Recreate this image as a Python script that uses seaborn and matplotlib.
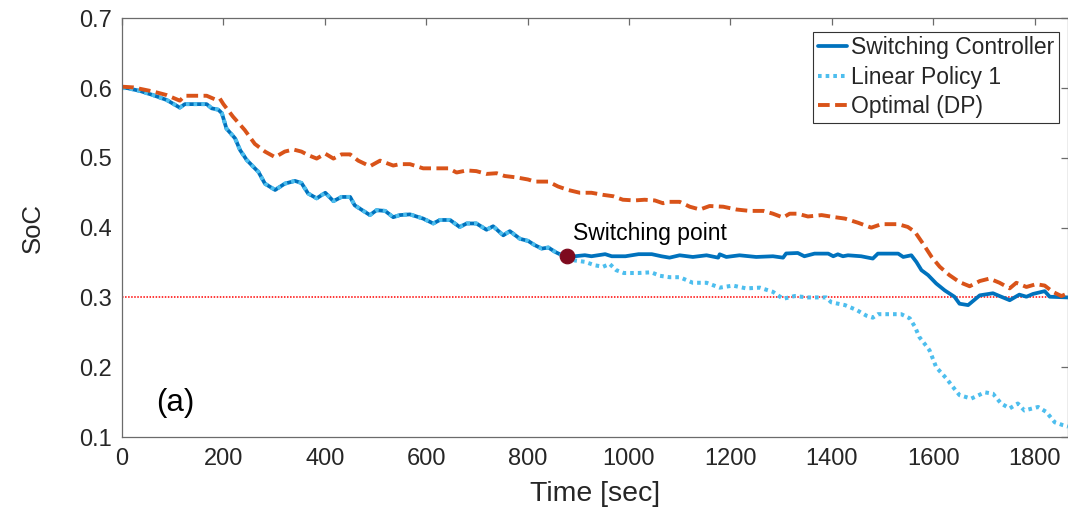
import matplotlib
matplotlib.use("Agg")
import matplotlib.pyplot as plt
import seaborn as sns
import pandas as pd

# ---- data ----
t_pre = [0, 10, 35, 61, 88, 114, 124, 167, 177, 190, 197, 206, 223, 233, 246, 262, 269, 282,
         302, 321, 341, 354, 367, 384, 401, 417, 433, 450, 459, 489, 502, 519, 535, 548, 568,
         594, 614, 627, 647, 666, 680, 699, 719, 732, 752, 765, 785, 801, 814, 828, 841, 855,
         868, 877]
soc_pre = [0.600, 0.600, 0.596, 0.590, 0.583, 0.572, 0.577, 0.577, 0.571, 0.569, 0.564, 0.542,
           0.528, 0.511, 0.497, 0.485, 0.480, 0.463, 0.454, 0.463, 0.467, 0.464, 0.449, 0.442,
           0.450, 0.438, 0.444, 0.444, 0.432, 0.418, 0.425, 0.424, 0.415, 0.418, 0.419, 0.413,
           0.406, 0.411, 0.411, 0.401, 0.406, 0.406, 0.397, 0.402, 0.389, 0.395, 0.384, 0.381,
           0.375, 0.370, 0.3715, 0.365, 0.3604, 0.359]

t_sw = [893, 913, 926, 953, 966, 993, 1019, 1045, 1064, 1080, 1100, 1126, 1153, 1176, 1179,
        1192, 1218, 1251, 1284, 1304, 1310, 1333, 1346, 1366, 1393, 1403, 1412, 1422, 1432,
        1458, 1481, 1491, 1531, 1541, 1557, 1567, 1577, 1590, 1606, 1623, 1642, 1652, 1669,
        1692, 1718, 1731, 1751, 1770, 1784, 1797, 1820, 1830, 1866]
soc_sw = [0.359, 0.3605, 0.359, 0.362, 0.359, 0.359, 0.362, 0.362, 0.359, 0.357, 0.3604,
          0.358, 0.3604, 0.357, 0.3618, 0.358, 0.3604, 0.358, 0.359, 0.357, 0.363, 0.3637,
          0.359, 0.3628, 0.3628, 0.359, 0.3618, 0.359, 0.3604, 0.359, 0.3557, 0.3628, 0.3628,
          0.358, 0.3604, 0.3508, 0.339, 0.332, 0.320, 0.310, 0.301, 0.291, 0.289, 0.303, 0.306,
          0.302, 0.296, 0.304, 0.301, 0.305, 0.309, 0.301, 0.300]

t_lin = [893, 913, 933, 949, 962, 975, 990, 1018, 1044, 1061, 1080, 1100, 1126, 1153, 1179,
         1205, 1231, 1258, 1284, 1304, 1327, 1353, 1389, 1399, 1426, 1449, 1468, 1481, 1491,
         1537, 1554, 1564, 1573, 1587, 1593, 1606, 1626, 1642, 1652, 1675, 1702, 1718, 1734,
         1751, 1767, 1780, 1807, 1823, 1840, 1856, 1866]
soc_lin = [0.353, 0.351, 0.346, 0.344, 0.348, 0.339, 0.335, 0.335, 0.336, 0.331, 0.329, 0.329,
           0.321, 0.321, 0.314, 0.317, 0.313, 0.314, 0.308, 0.298, 0.302, 0.300, 0.300, 0.293,
           0.289, 0.282, 0.274, 0.271, 0.276, 0.276, 0.270, 0.258, 0.243, 0.230, 0.224, 0.200,
           0.184, 0.169, 0.160, 0.155, 0.164, 0.162, 0.148, 0.141, 0.148, 0.138, 0.143, 0.136,
           0.121, 0.117, 0.115]

t_dp = [0, 22, 62, 88, 114, 124, 167, 183, 193, 200, 219, 242, 262, 282, 302, 321, 338, 354,
        367, 384, 401, 417, 433, 450, 466, 489, 509, 535, 548, 568, 594, 620, 644, 660, 680,
        699, 719, 739, 755, 778, 801, 814, 841, 860, 880, 903, 926, 949, 969, 988, 1011, 1031,
        1051, 1067, 1080, 1100, 1120, 1140, 1159, 1186, 1212, 1238, 1265, 1284, 1304, 1317,
        1333, 1353, 1380, 1406, 1426, 1452, 1478, 1498, 1531, 1550, 1564, 1580, 1597, 1613,
        1632, 1652, 1672, 1692, 1711, 1731, 1751, 1764, 1784, 1803, 1820, 1836, 1853, 1866]
soc_dp = [0.602, 0.601, 0.595, 0.590, 0.582, 0.589, 0.589, 0.584, 0.585, 0.577, 0.559, 0.540,
          0.520, 0.509, 0.501, 0.509, 0.512, 0.509, 0.504, 0.499, 0.506, 0.499, 0.505, 0.505,
          0.496, 0.488, 0.496, 0.489, 0.491, 0.491, 0.485, 0.485, 0.485, 0.479, 0.482, 0.481,
          0.477, 0.478, 0.474, 0.472, 0.469, 0.466, 0.466, 0.459, 0.454, 0.450, 0.450, 0.447,
          0.445, 0.440, 0.439, 0.440, 0.439, 0.435, 0.437, 0.437, 0.430, 0.426, 0.431, 0.430,
          0.426, 0.424, 0.424, 0.420, 0.4145, 0.420, 0.420, 0.416, 0.418, 0.415, 0.413, 0.407,
          0.400, 0.405, 0.405, 0.401, 0.394, 0.377, 0.358, 0.344, 0.332, 0.322, 0.316, 0.3235,
          0.327, 0.321, 0.313, 0.321, 0.315, 0.319, 0.317, 0.308, 0.302, 0.306]

switch_t = [877]
switch_soc = [0.359]
soc_limit = 0.3

x_ticks = [0, 200, 400, 600, 800, 1000, 1200, 1400, 1600, 1800]
y_ticks = [0.1, 0.2, 0.3, 0.4, 0.5, 0.6, 0.7]

labels = ["Switching Controller", "Linear Policy 1", "Optimal (DP)"]

# ---- style ----
sns.set_theme(style="white")
plt.rcParams["font.family"] = ["Liberation Sans", "DejaVu Sans"]
plt.rcParams.update({
    "xtick.direction": "in", "ytick.direction": "in",
    "axes.edgecolor": "#6b6b6b", "axes.linewidth": 0.9,
    "xtick.color": "#6b6b6b", "ytick.color": "#6b6b6b",
    "xtick.labelcolor": "#262626", "ytick.labelcolor": "#262626",
})

fig = plt.figure(figsize=(10.68, 5.15), dpi=100)
ax = fig.add_axes([122 / 1068, 78 / 515, 946 / 1068, 418.7 / 515])

df_sw = pd.DataFrame({"t": t_pre + t_sw, "soc": soc_pre + soc_sw})
df_lin = pd.DataFrame({"t": t_pre + t_lin, "soc": soc_pre + soc_lin})
df_dp = pd.DataFrame({"t": t_dp, "soc": soc_dp})

sns.lineplot(data=df_sw, x="t", y="soc", ax=ax, color="#0072BD", lw=2.7,
             estimator=None, sort=False, label=labels[0])
sns.lineplot(data=df_lin, x="t", y="soc", ax=ax, color="#4DBEEE", lw=2.9,
             linestyle=(0, (0.9, 1.0)), estimator=None, sort=False, label=labels[1])
sns.lineplot(data=df_dp, x="t", y="soc", ax=ax, color="#D95319", lw=2.8,
             linestyle=(0, (3.0, 1.4)), estimator=None, sort=False, label=labels[2])

ax.axhline(soc_limit, color="red", lw=1.1, linestyle=(0, (1, 1)), zorder=1)
sns.scatterplot(x=switch_t, y=switch_soc, ax=ax, color="#7E0A1E", s=110,
                edgecolor="#7E0A1E", zorder=5, legend=False)
ax.text(889, 0.392, "Switching point", fontsize=16.5, color="black",
        ha="left", va="center")
ax.text(106, 0.149, "(a)", fontsize=22.5, color="black", ha="center", va="center")

ax.set_xlim(0, 1866)
ax.set_ylim(0.1, 0.7)
ax.set_xticks(x_ticks)
ax.set_yticks(y_ticks)
ax.set_yticklabels([f"{v:.1f}" for v in y_ticks])
ax.tick_params(axis="both", which="both", top=True, right=True, length=5, width=0.9,
               labelsize=17)
ax.tick_params(axis="x", pad=8)
ax.tick_params(axis="y", pad=7)
ax.set_xlabel("Time [sec]", fontsize=20.5, color="#262626", labelpad=8)
ax.set_ylabel("SoC", fontsize=18.5, color="#262626", labelpad=25)
for s in ax.spines.values():
    s.set_visible(True)

leg = ax.legend(loc="upper right", bbox_to_anchor=(1059 / 1068 * 1068 / 946 - 122 / 946, 1 - 13.5 / 418.7),
                fontsize=16.5, frameon=True, fancybox=False, framealpha=1,
                edgecolor="#333333", handlelength=1.25, handletextpad=0.2,
                labelspacing=0.28, borderpad=0.2, borderaxespad=0)
leg.get_frame().set_linewidth(0.8)

fig.savefig("out.png", dpi=100)
